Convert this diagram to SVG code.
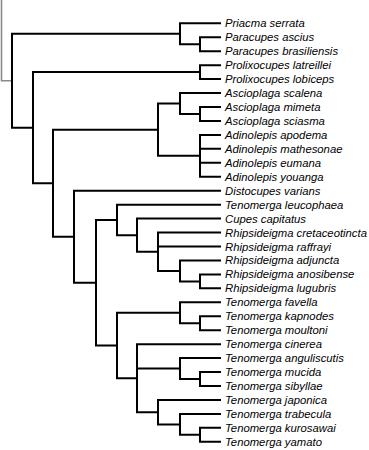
<svg xmlns="http://www.w3.org/2000/svg" width="369" height="450" viewBox="0 0 369 450">
<style>
.e{fill:none;stroke:#000;stroke-width:2;stroke-linecap:square}
.r{fill:none;stroke:#8a8a8a;stroke-width:1.6}
.t{font-family:"Liberation Sans",Arial,sans-serif;font-style:italic;font-size:11.3px;fill:#000}
</style>
<rect width="369" height="450" fill="#fff"/>
<g id="connectors">
<path class="r" d="M1.5 0V80.7H12"/>
<!-- Z -->
<path class="e" d="M12 33.8V127.7M12 33.8H180M12 127.7H33"/>
<!-- B -->
<path class="e" d="M180 23.3V44.2M180 23.3H220M180 44.2H200"/>
<path class="e" d="M200 37.25V51.2M200 37.25H220M200 51.2H220"/>
<!-- Y -->
<path class="e" d="M33 72.1V183.2M33 72.1H200M33 183.2H53"/>
<path class="e" d="M200 65.15V79.1M200 65.15H220M200 79.1H220"/>
<!-- H -->
<path class="e" d="M53 129.7V236.7M53 129.7H158M53 236.7H74"/>
<!-- G -->
<path class="e" d="M158 103.5V155.8M158 103.5H180M158 155.8H200"/>
<path class="e" d="M180 93.05V114M180 93.05H220M180 114H200"/>
<path class="e" d="M200 107V120.95M200 107H220M200 120.95H220"/>
<path class="e" d="M200 134.9V176.75M200 134.9H220M200 148.85H220M200 162.8H220M200 176.75H220"/>
<!-- X -->
<path class="e" d="M74 190.7V282.7M74 190.7H220M74 282.7H96"/>
<!-- W -->
<path class="e" d="M96 219.9V345.5M96 219.9H117M96 345.5H117"/>
<!-- M -->
<path class="e" d="M117 204.65V235.2M117 204.65H220M117 235.2H137"/>
<path class="e" d="M137 218.6V251.7M137 218.6H220M137 251.7H158"/>
<path class="e" d="M158 232.55V270.9M158 232.55H220M158 246.5H220M158 270.9H180"/>
<path class="e" d="M180 260.45V281.4M180 260.45H220M180 281.4H200"/>
<path class="e" d="M200 274.4V288.35M200 274.4H220M200 288.35H220"/>
<!-- V -->
<path class="e" d="M117 312.8V378.2M117 312.8H180M117 378.2H137"/>
<path class="e" d="M180 302.3V323.2M180 302.3H220M180 323.2H200"/>
<path class="e" d="M200 316.25V330.2M200 316.25H220M200 330.2H220"/>
<!-- U -->
<path class="e" d="M137 344.15V412.2M137 344.15H220M137 368.6H180M137 412.2H158"/>
<path class="e" d="M180 358.1V379M180 358.1H220M180 379H200"/>
<path class="e" d="M200 372.05V386M200 372.05H220M200 386H220"/>
<path class="e" d="M158 399.95V424.4M158 399.95H220M158 424.4H180"/>
<path class="e" d="M180 413.9V434.8M180 413.9H220M180 434.8H200"/>
<path class="e" d="M200 427.85V441.8M200 427.85H220M200 441.8H220"/>
</g>
<g id="n1"><text class="t" x="225" y="27.3">Priacma serrata</text></g>
<g id="n2"><text class="t" x="225" y="41.25">Paracupes ascius</text></g>
<g id="n3"><text class="t" x="225" y="55.2">Paracupes brasiliensis</text></g>
<g id="n4"><text class="t" x="225" y="69.15">Prolixocupes latreillei</text></g>
<g id="n5"><text class="t" x="225" y="83.1">Prolixocupes lobiceps</text></g>
<g id="n6"><text class="t" x="225" y="97.05">Ascioplaga scalena</text></g>
<g id="n7"><text class="t" x="225" y="111">Ascioplaga mimeta</text></g>
<g id="n8"><text class="t" x="225" y="124.95">Ascioplaga sciasma</text></g>
<g id="n9"><text class="t" x="225" y="138.9">Adinolepis apodema</text></g>
<g id="n10"><text class="t" x="225" y="152.85">Adinolepis mathesonae</text></g>
<g id="n11"><text class="t" x="225" y="166.8">Adinolepis eumana</text></g>
<g id="n12"><text class="t" x="225" y="180.75">Adinolepis youanga</text></g>
<g id="n13"><text class="t" x="225" y="194.7">Distocupes varians</text></g>
<g id="n14"><text class="t" x="225" y="208.65">Tenomerga leucophaea</text></g>
<g id="n15"><text class="t" x="225" y="222.6">Cupes capitatus</text></g>
<g id="n16"><text class="t" x="225" y="236.55">Rhipsideigma cretaceotincta</text></g>
<g id="n17"><text class="t" x="225" y="250.5">Rhipsideigma raffrayi</text></g>
<g id="n18"><text class="t" x="225" y="264.45">Rhipsideigma adjuncta</text></g>
<g id="n19"><text class="t" x="225" y="278.4">Rhipsideigma anosibense</text></g>
<g id="n20"><text class="t" x="225" y="292.35">Rhipsideigma lugubris</text></g>
<g id="n21"><text class="t" x="225" y="306.3">Tenomerga favella</text></g>
<g id="n22"><text class="t" x="225" y="320.25">Tenomerga kapnodes</text></g>
<g id="n23"><text class="t" x="225" y="334.2">Tenomerga moultoni</text></g>
<g id="n24"><text class="t" x="225" y="348.15">Tenomerga cinerea</text></g>
<g id="n25"><text class="t" x="225" y="362.1">Tenomerga anguliscutis</text></g>
<g id="n26"><text class="t" x="225" y="376.05">Tenomerga mucida</text></g>
<g id="n27"><text class="t" x="225" y="390">Tenomerga sibyllae</text></g>
<g id="n28"><text class="t" x="225" y="403.95">Tenomerga japonica</text></g>
<g id="n29"><text class="t" x="225" y="417.9">Tenomerga trabecula</text></g>
<g id="n30"><text class="t" x="225" y="431.85">Tenomerga kurosawai</text></g>
<g id="n31"><text class="t" x="225" y="445.8">Tenomerga yamato</text></g>
</svg>
